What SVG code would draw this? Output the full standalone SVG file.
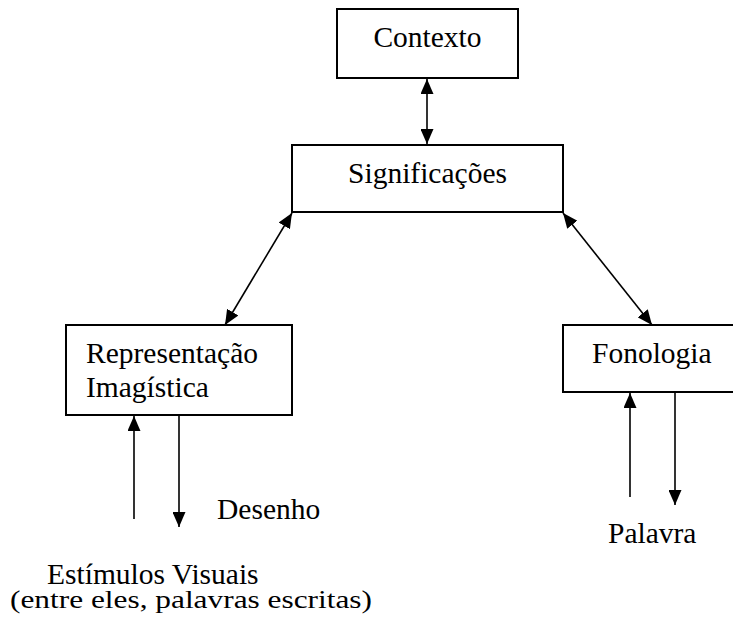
<svg xmlns="http://www.w3.org/2000/svg" width="733" height="624" viewBox="0 0 733 624">
<style>
.box{fill:#fff;stroke:#000;stroke-width:2}
.t{font-family:"Liberation Serif","Times New Roman",serif;font-size:29.5px;fill:#000}
.s{font-family:"Liberation Serif","Times New Roman",serif;font-size:25px;fill:#000}
.c{stroke:#000;stroke-width:1.6;fill:none}
</style>
<defs>
<marker id="ah" viewBox="0 0 15 13" markerWidth="15" markerHeight="13" refX="15" refY="6.5" orient="auto-start-reverse" markerUnits="userSpaceOnUse">
<path d="M0,0 L15,6.5 L0,13 z" fill="#000"/>
</marker>
</defs>
<rect width="733" height="624" fill="#fff"/>
<g id="connectors">
<line class="c" x1="427" y1="79" x2="427" y2="144" marker-start="url(#ah)" marker-end="url(#ah)"/>
<line class="c" x1="292" y1="213" x2="225" y2="325" marker-start="url(#ah)" marker-end="url(#ah)"/>
<line class="c" x1="563" y1="213" x2="652" y2="325" marker-start="url(#ah)" marker-end="url(#ah)"/>
<line class="c" x1="134" y1="519" x2="134" y2="416" marker-end="url(#ah)"/>
<line class="c" x1="179" y1="416" x2="179" y2="527" marker-end="url(#ah)"/>
<line class="c" x1="630" y1="497" x2="630" y2="393" marker-end="url(#ah)"/>
<line class="c" x1="675" y1="393" x2="675" y2="505" marker-end="url(#ah)"/>
</g>
<g id="contexto">
<rect class="box" x="337" y="9" width="181" height="69"/>
<text class="t" x="427.5" y="47" text-anchor="middle">Contexto</text>
</g>
<g id="significacoes">
<rect class="box" x="292" y="145" width="271" height="67"/>
<text class="t" x="427.5" y="183" text-anchor="middle">Significações</text>
</g>
<g id="representacao">
<rect class="box" x="66" y="325" width="226" height="90"/>
<text class="t" x="86" y="363">Representação</text>
<text class="t" x="86" y="397">Imagística</text>
</g>
<g id="fonologia">
<rect class="box" x="563" y="325" width="200" height="67"/>
<text class="t" x="592" y="363">Fonologia</text>
</g>
<g id="desenho">
<text class="t" x="217" y="519">Desenho</text>
</g>
<g id="palavra">
<text class="t" x="608" y="543">Palavra</text>
</g>
<g id="estimulos">
<text class="t" x="47" y="584">Estímulos Visuais</text>
<text class="s" x="10" y="608" textLength="362" lengthAdjust="spacingAndGlyphs">(entre eles, palavras escritas)</text>
</g>
</svg>
